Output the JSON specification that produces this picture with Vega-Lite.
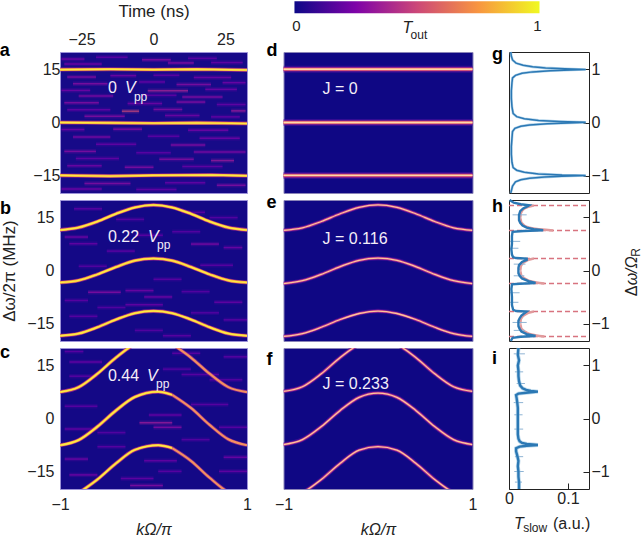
{"$schema":"https://vega.github.io/schema/vega-lite/v6.json","padding":{"left":-1,"top":0,"right":0,"bottom":0},"background":"white",
"config":{"font":"Liberation Sans","view":{"stroke":null},"axis":{"labelFont":"Liberation Sans","titleFont":"Liberation Sans","labelFontSize":16,"titleFontSize":16,"grid":false,"domain":false,"ticks":false,"labelColor":"#222","titleColor":"#222","labelFlush":false,"labelOverlap":false,"titleFontWeight":"normal"}},
"datasets":{
"t":[
{"p":"a","f":"b","s":"a","x":-53.4,"y":19},{"p":"a","f":"n","s":"0","x":-15.8,"y":8.5},{"p":"a","f":"i","s":"V","x":-9.9,"y":8.5},{"p":"a","f":"s","s":"pp","x":-6.8,"y":6.2},
{"p":"b","f":"b","s":"b","x":-1.642,"y":16.1},{"p":"b","f":"n","s":"0.22","x":-0.487,"y":8},{"p":"b","f":"i","s":"V","x":-0.059,"y":8},{"p":"b","f":"s","s":"pp","x":0.037,"y":6.2},
{"p":"c","f":"b","s":"c","x":-1.642,"y":17.3},{"p":"c","f":"n","s":"0.44","x":-0.487,"y":10.6},{"p":"c","f":"i","s":"V","x":-0.07,"y":10.6},{"p":"c","f":"s","s":"pp","x":0.027,"y":8.6},
{"p":"d","f":"b","s":"d","x":-1.18,"y":19},{"p":"d","f":"n","s":"J = 0","x":-0.587,"y":8.2},
{"p":"d","f":"k","s":"T","x":0.26,"y":25.4},{"p":"d","f":"l","s":"out","x":0.345,"y":23.7},{"p":"d","f":"m","s":"0","x":-0.862,"y":25.9},{"p":"d","f":"m","s":"1","x":1.688,"y":25.9},
{"p":"e","f":"b","s":"e","x":-1.18,"y":17.8},{"p":"e","f":"n","s":"J = 0.116","x":-0.587,"y":7.6},
{"p":"f","f":"b","s":"f","x":-1.18,"y":15.3},{"p":"f","f":"n","s":"J = 0.233","x":-0.587,"y":8.5},
{"p":"g","f":"b","s":"g","x":-0.0288,"y":1.18},{"p":"h","f":"b","s":"h","x":-0.0288,"y":1.1},{"p":"i","f":"b","s":"i","x":-0.0288,"y":1.03},
{"p":"i","f":"k","s":"T","x":0.0085,"y":-2.08},{"p":"i","f":"l","s":"slow","x":0.024,"y":-2.15},{"p":"i","f":"k2","s":"(a.u.)","x":0.0746,"y":-2.08}
],
"v":[
{"p":"h","f":"r","s":"Δ","x":0.217,"y":-0.486},{"p":"h","f":"q","s":"ω/Ω","x":0.217,"y":-0.28},{"p":"h","f":"u","s":"R","x":0.222,"y":0.26}
],
"c":[
{"p":"a","b":1,"x":-32.5,"y":15},{"p":"a","b":1,"x":-15,"y":15.1},{"p":"a","b":1,"x":0,"y":15},{"p":"a","b":1,"x":15,"y":15.1},{"p":"a","b":1,"x":32.5,"y":14.9},
{"p":"a","b":2,"x":-32.5,"y":0},{"p":"a","b":2,"x":-15,"y":-0.1},{"p":"a","b":2,"x":0,"y":-0.2},{"p":"a","b":2,"x":15,"y":-0.1},{"p":"a","b":2,"x":32.5,"y":-0.3},
{"p":"a","b":3,"x":-32.5,"y":-15},{"p":"a","b":3,"x":-15,"y":-15.2},{"p":"a","b":3,"x":0,"y":-15},{"p":"a","b":3,"x":20,"y":-14.9},{"p":"a","b":3,"x":32.5,"y":-15.1},
{"p":"d","b":1,"x":-1,"y":15.1},{"p":"d","b":1,"x":1,"y":15.1},{"p":"d","b":2,"x":-1,"y":0},{"p":"d","b":2,"x":1,"y":0},{"p":"d","b":3,"x":-1,"y":-15},{"p":"d","b":3,"x":1,"y":-15},
{"p":"b","b":1,"x":-1,"y":11.5},{"p":"b","b":1,"x":-0.8,"y":12.2},{"p":"b","b":1,"x":-0.6,"y":13.9},{"p":"b","b":1,"x":-0.4,"y":16.1},{"p":"b","b":1,"x":-0.2,"y":17.9},{"p":"b","b":1,"x":0,"y":18.6},{"p":"b","b":1,"x":0.2,"y":17.9},{"p":"b","b":1,"x":0.4,"y":16.1},{"p":"b","b":1,"x":0.6,"y":13.9},{"p":"b","b":1,"x":0.8,"y":12.2},{"p":"b","b":1,"x":1,"y":11.5},
{"p":"b","b":2,"x":-1,"y":-3.4},{"p":"b","b":2,"x":-0.8,"y":-2.8},{"p":"b","b":2,"x":-0.6,"y":-1.1},{"p":"b","b":2,"x":-0.4,"y":1},{"p":"b","b":2,"x":-0.2,"y":2.8},{"p":"b","b":2,"x":0,"y":3.4},{"p":"b","b":2,"x":0.2,"y":2.8},{"p":"b","b":2,"x":0.4,"y":1},{"p":"b","b":2,"x":0.6,"y":-1.1},{"p":"b","b":2,"x":0.8,"y":-2.8},{"p":"b","b":2,"x":1,"y":-3.4},
{"p":"b","b":3,"x":-1,"y":-18.5},{"p":"b","b":3,"x":-0.8,"y":-17.9},{"p":"b","b":3,"x":-0.6,"y":-16.1},{"p":"b","b":3,"x":-0.4,"y":-13.9},{"p":"b","b":3,"x":-0.2,"y":-12.1},{"p":"b","b":3,"x":0,"y":-11.5},{"p":"b","b":3,"x":0.2,"y":-12.1},{"p":"b","b":3,"x":0.4,"y":-13.9},{"p":"b","b":3,"x":0.6,"y":-16.1},{"p":"b","b":3,"x":0.8,"y":-17.9},{"p":"b","b":3,"x":1,"y":-18.5},
{"p":"c","b":1,"x":-1,"y":7.5},{"p":"c","b":1,"x":-0.8,"y":8.9},{"p":"c","b":1,"x":-0.6,"y":12.7},{"p":"c","b":1,"x":-0.4,"y":17.3},{"p":"c","b":1,"x":-0.2,"y":21.1},{"p":"c","b":1,"x":0,"y":22.5},
{"p":"c","b":2,"x":-1,"y":-7.6},{"p":"c","b":2,"x":-0.8,"y":-6.1},{"p":"c","b":2,"x":-0.6,"y":-2.3},{"p":"c","b":2,"x":-0.4,"y":2.3},{"p":"c","b":2,"x":-0.2,"y":6.1},{"p":"c","b":2,"x":0.05,"y":7.6},{"p":"c","b":2,"x":0.2,"y":6.7},
{"p":"c","b":3,"x":-0.8,"y":-21.1},{"p":"c","b":3,"x":-0.6,"y":-17.3},{"p":"c","b":3,"x":-0.4,"y":-12.7},{"p":"c","b":3,"x":-0.2,"y":-8.9},{"p":"c","b":3,"x":0.05,"y":-7.6},{"p":"c","b":3,"x":0.2,"y":-8.4},
{"p":"cd","b":1,"x":0.2,"y":21.1},{"p":"cd","b":1,"x":0.4,"y":17.3},{"p":"cd","b":1,"x":0.6,"y":12.7},{"p":"cd","b":1,"x":0.8,"y":8.9},{"p":"cd","b":1,"x":1,"y":7.5},
{"p":"cd","b":2,"x":0.2,"y":6.7},{"p":"cd","b":2,"x":0.4,"y":3},{"p":"cd","b":2,"x":0.6,"y":-1.8},{"p":"cd","b":2,"x":0.8,"y":-5.9},{"p":"cd","b":2,"x":1,"y":-7.6},
{"p":"cd","b":3,"x":0.2,"y":-8.4},{"p":"cd","b":3,"x":0.4,"y":-12},{"p":"cd","b":3,"x":0.6,"y":-16.8},{"p":"cd","b":3,"x":0.8,"y":-20.9},{"p":"cd","b":3,"x":1,"y":-22.5},
{"p":"e","b":1,"x":-1,"y":11.4},{"p":"e","b":1,"x":-0.8,"y":12.1},{"p":"e","b":1,"x":-0.6,"y":13.9},{"p":"e","b":1,"x":-0.4,"y":16.1},{"p":"e","b":1,"x":-0.2,"y":17.9},{"p":"e","b":1,"x":0,"y":18.6},{"p":"e","b":1,"x":0.2,"y":17.9},{"p":"e","b":1,"x":0.4,"y":16.1},{"p":"e","b":1,"x":0.6,"y":13.9},{"p":"e","b":1,"x":0.8,"y":12.1},{"p":"e","b":1,"x":1,"y":11.4},
{"p":"e","b":2,"x":-1,"y":-3.7},{"p":"e","b":2,"x":-0.8,"y":-2.9},{"p":"e","b":2,"x":-0.6,"y":-1.1},{"p":"e","b":2,"x":-0.4,"y":1.1},{"p":"e","b":2,"x":-0.2,"y":2.9},{"p":"e","b":2,"x":0,"y":3.5},{"p":"e","b":2,"x":0.2,"y":2.9},{"p":"e","b":2,"x":0.4,"y":1.1},{"p":"e","b":2,"x":0.6,"y":-1.1},{"p":"e","b":2,"x":0.8,"y":-2.9},{"p":"e","b":2,"x":1,"y":-3.7},
{"p":"e","b":3,"x":-1,"y":-18.7},{"p":"e","b":3,"x":-0.8,"y":-17.9},{"p":"e","b":3,"x":-0.6,"y":-16.1},{"p":"e","b":3,"x":-0.4,"y":-13.9},{"p":"e","b":3,"x":-0.2,"y":-12.2},{"p":"e","b":3,"x":0,"y":-11.5},{"p":"e","b":3,"x":0.2,"y":-12.2},{"p":"e","b":3,"x":0.4,"y":-13.9},{"p":"e","b":3,"x":0.6,"y":-16.1},{"p":"e","b":3,"x":0.8,"y":-17.9},{"p":"e","b":3,"x":1,"y":-18.7},
{"p":"f","b":1,"x":-1,"y":7.7},{"p":"f","b":1,"x":-0.8,"y":9},{"p":"f","b":1,"x":-0.6,"y":12.7},{"p":"f","b":1,"x":-0.4,"y":17.3},{"p":"f","b":1,"x":-0.2,"y":21},{"p":"f","b":1,"x":0,"y":22.4},{"p":"f","b":1,"x":0.2,"y":21},{"p":"f","b":1,"x":0.4,"y":17.3},{"p":"f","b":1,"x":0.6,"y":12.7},{"p":"f","b":1,"x":0.8,"y":9},{"p":"f","b":1,"x":1,"y":7.7},
{"p":"f","b":2,"x":-1,"y":-7.4},{"p":"f","b":2,"x":-0.8,"y":-6},{"p":"f","b":2,"x":-0.6,"y":-2.3},{"p":"f","b":2,"x":-0.4,"y":2.3},{"p":"f","b":2,"x":-0.2,"y":6},{"p":"f","b":2,"x":0,"y":7.2},{"p":"f","b":2,"x":0.2,"y":6},{"p":"f","b":2,"x":0.4,"y":2.3},{"p":"f","b":2,"x":0.6,"y":-2.3},{"p":"f","b":2,"x":0.8,"y":-6},{"p":"f","b":2,"x":1,"y":-7.4},
{"p":"f","b":3,"x":-1,"y":-22.4},{"p":"f","b":3,"x":-0.8,"y":-21},{"p":"f","b":3,"x":-0.6,"y":-17.3},{"p":"f","b":3,"x":-0.4,"y":-12.7},{"p":"f","b":3,"x":-0.2,"y":-9},{"p":"f","b":3,"x":0,"y":-8},{"p":"f","b":3,"x":0.2,"y":-9},{"p":"f","b":3,"x":0.4,"y":-12.7},{"p":"f","b":3,"x":0.6,"y":-17.3},{"p":"f","b":3,"x":0.8,"y":-21},{"p":"f","b":3,"x":1,"y":-22.4}
],
"s":[
{"p":"a","x":-32,"x2":-24,"y":18,"T":0.25},{"p":"a","x":-20,"x2":-9,"y":18.5,"T":0.2},{"p":"a","x":-4,"x2":6,"y":17.8,"T":0.3},{"p":"a","x":12,"x2":22,"y":18.2,"T":0.2},{"p":"a","x":-31,"x2":-18,"y":16.6,"T":0.25},{"p":"a","x":5,"x2":14,"y":16.9,"T":0.3},{"p":"a","x":20,"x2":31,"y":17,"T":0.22},
{"p":"a","x":-30,"x2":-20,"y":12.9,"T":0.3},{"p":"a","x":-15,"x2":-6,"y":13.3,"T":0.25},{"p":"a","x":0,"x2":9,"y":13.4,"T":0.2},{"p":"a","x":14,"x2":27,"y":12.8,"T":0.25},{"p":"a","x":-28,"x2":-16,"y":11,"T":0.3},{"p":"a","x":-5,"x2":4,"y":11.5,"T":0.22},{"p":"a","x":8,"x2":20,"y":10.8,"T":0.3},{"p":"a","x":24,"x2":32,"y":11.3,"T":0.25},
{"p":"a","x":-32,"x2":-22,"y":9.1,"T":0.25},{"p":"a","x":-2,"x2":12,"y":9,"T":0.38},{"p":"a","x":18,"x2":29,"y":9.4,"T":0.25},{"p":"a","x":-26,"x2":-14,"y":7.5,"T":0.28},{"p":"a","x":-4,"x2":8,"y":7.7,"T":0.2},{"p":"a","x":10,"x2":24,"y":7.2,"T":0.3},{"p":"a","x":-31,"x2":-19,"y":5.6,"T":0.3},{"p":"a","x":-9,"x2":3,"y":5.4,"T":0.25},{"p":"a","x":8,"x2":18,"y":5.8,"T":0.3},{"p":"a","x":22,"x2":32,"y":5.1,"T":0.22},
{"p":"a","x":-11,"x2":-5,"y":3.2,"T":0.5},{"p":"a","x":-30,"x2":-15,"y":3.6,"T":0.22},{"p":"a","x":0,"x2":10,"y":3.7,"T":0.3},{"p":"a","x":27,"x2":32,"y":3.3,"T":0.35},{"p":"a","x":-24,"x2":-10,"y":1.8,"T":0.3},{"p":"a","x":4,"x2":16,"y":2,"T":0.25},{"p":"a","x":20,"x2":30,"y":1.6,"T":0.22},
{"p":"a","x":-32,"x2":-24,"y":-2,"T":0.25},{"p":"a","x":-14,"x2":-4,"y":-1.9,"T":0.3},{"p":"a","x":12,"x2":26,"y":-2.2,"T":0.25},{"p":"a","x":-28,"x2":-15,"y":-4.1,"T":0.28},{"p":"a","x":-2,"x2":9,"y":-3.9,"T":0.2},{"p":"a","x":16,"x2":30,"y":-4.5,"T":0.25},{"p":"a","x":-20,"x2":-6,"y":-6.2,"T":0.22},{"p":"a","x":6,"x2":18,"y":-6.4,"T":0.3},
{"p":"a","x":-31,"x2":-20,"y":-8.2,"T":0.3},{"p":"a","x":-6,"x2":6,"y":-8.6,"T":0.2},{"p":"a","x":14,"x2":32,"y":-8.4,"T":0.28},{"p":"a","x":-27,"x2":-12,"y":-10.2,"T":0.22},{"p":"a","x":2,"x2":14,"y":-10.4,"T":0.3},{"p":"a","x":20,"x2":28,"y":-10.8,"T":0.35},{"p":"a","x":-30,"x2":-18,"y":-12.3,"T":0.25},{"p":"a","x":-10,"x2":0,"y":-12.7,"T":0.3},{"p":"a","x":10,"x2":24,"y":-12.5,"T":0.22},
{"p":"a","x":-24,"x2":-8,"y":-17.3,"T":0.3},{"p":"a","x":4,"x2":18,"y":-17.1,"T":0.22},{"p":"a","x":22,"x2":32,"y":-17.8,"T":0.3},{"p":"a","x":-32,"x2":-18,"y":-18.9,"T":0.25},{"p":"a","x":-6,"x2":8,"y":-19,"T":0.22},
{"p":"b","x":-0.95,"x2":-0.7,"y":9.5,"T":0.25},{"p":"b","x":-0.4,"x2":-0.1,"y":14.5,"T":0.18},{"p":"b","x":0.3,"x2":0.55,"y":16.5,"T":0.2},{"p":"b","x":0.6,"x2":0.9,"y":15,"T":0.18},{"p":"b","x":-0.9,"x2":-0.6,"y":7.6,"T":0.22},{"p":"b","x":-0.5,"x2":-0.2,"y":5.5,"T":0.2},{"p":"b","x":0.4,"x2":0.7,"y":7.5,"T":0.28},{"p":"b","x":0.75,"x2":0.95,"y":6.5,"T":0.25},{"p":"b","x":-0.8,"x2":-0.5,"y":1.2,"T":0.18},{"p":"b","x":0.5,"x2":0.85,"y":1.5,"T":0.2},{"p":"b","x":-0.3,"x2":0,"y":-5.7,"T":0.25},{"p":"b","x":-0.7,"x2":-0.35,"y":-6.2,"T":0.3},{"p":"b","x":-0.1,"x2":0.2,"y":-7.5,"T":0.25},{"p":"b","x":0.3,"x2":0.6,"y":-6,"T":0.18},{"p":"b","x":0.65,"x2":0.95,"y":-9,"T":0.22},{"p":"b","x":-0.95,"x2":-0.7,"y":-8.5,"T":0.2},{"p":"b","x":-0.3,"x2":0.1,"y":-9.7,"T":0.22},{"p":"b","x":-0.6,"x2":-0.3,"y":-10.5,"T":0.18},{"p":"b","x":-0.9,"x2":-0.6,"y":-13,"T":0.2},{"p":"b","x":0.4,"x2":0.7,"y":-12,"T":0.18},{"p":"b","x":0.75,"x2":1,"y":-14,"T":0.2},{"p":"b","x":-0.2,"x2":0.1,"y":-17,"T":0.18},{"p":"b","x":0.1,"x2":0.4,"y":-18.5,"T":0.2},{"p":"b","x":-0.85,"x2":-0.55,"y":17.5,"T":0.2},{"p":"b","x":0.2,"x2":0.5,"y":11,"T":0.18},{"p":"b","x":-0.2,"x2":0.1,"y":10,"T":0.2},{"p":"b","x":0,"x2":0.3,"y":-2.5,"T":0.2},
{"p":"c","x":-0.9,"x2":-0.6,"y":12,"T":0.2},{"p":"c","x":-0.9,"x2":-0.55,"y":16,"T":0.22},{"p":"c","x":0.2,"x2":0.5,"y":18.5,"T":0.2},{"p":"c","x":0,"x2":0.3,"y":-2.5,"T":0.3},{"p":"c","x":-0.15,"x2":0.2,"y":-1.2,"T":0.35},{"p":"c","x":-0.05,"x2":0.3,"y":1,"T":0.22},{"p":"c","x":0.4,"x2":0.8,"y":4,"T":0.2},{"p":"c","x":0.6,"x2":0.95,"y":11,"T":0.18},{"p":"c","x":0.3,"x2":0.7,"y":12.5,"T":0.2},{"p":"c","x":-0.95,"x2":-0.6,"y":3.5,"T":0.2},{"p":"c","x":-0.95,"x2":-0.6,"y":-3,"T":0.22},{"p":"c","x":0.7,"x2":1,"y":-2.5,"T":0.2},{"p":"c","x":-0.6,"x2":-0.3,"y":-8,"T":0.2},{"p":"c","x":0.75,"x2":1,"y":-11,"T":0.25},{"p":"c","x":0.7,"x2":1,"y":-15,"T":0.22},{"p":"c","x":-0.95,"x2":-0.7,"y":-11.5,"T":0.25},{"p":"c","x":-0.9,"x2":-0.6,"y":-16,"T":0.25},{"p":"c","x":-0.35,"x2":0,"y":-17,"T":0.22},{"p":"c","x":-0.25,"x2":0.1,"y":-19,"T":0.3},{"p":"c","x":0.05,"x2":0.3,"y":-15,"T":0.2},{"p":"c","x":-0.6,"x2":-0.3,"y":-4,"T":0.18},{"p":"c","x":0.3,"x2":0.6,"y":-6,"T":0.18},{"p":"c","x":0.1,"x2":0.4,"y":14,"T":0.18},{"p":"c","x":-0.95,"x2":-0.75,"y":19,"T":0.2},{"p":"c","x":0.75,"x2":1,"y":17.5,"T":0.2},{"p":"c","x":-0.1,"x2":0.25,"y":-12,"T":0.22}
],
"bg":[{"x":-0.884,"x2":1.709,"y":34.42,"y2":31}],
"r":[
{"p":"g","x":0.003,"y":1.33},{"p":"g","x":0.004,"y":1.25},{"p":"g","x":0.006,"y":1.18},{"p":"g","x":0.012,"y":1.12},{"p":"g","x":0.024,"y":1.08},{"p":"g","x":0.04,"y":1.05},{"p":"g","x":0.062,"y":1.03},{"p":"g","x":0.095,"y":1.015},{"p":"g","x":0.13,"y":1},{"p":"g","x":0.105,"y":0.99},{"p":"g","x":0.07,"y":0.975},{"p":"g","x":0.04,"y":0.955},{"p":"g","x":0.022,"y":0.93},{"p":"g","x":0.011,"y":0.89},{"p":"g","x":0.006,"y":0.84},{"p":"g","x":0.005,"y":0.75},{"p":"g","x":0.004,"y":0.6},{"p":"g","x":0.004,"y":0.45},{"p":"g","x":0.005,"y":0.3},{"p":"g","x":0.007,"y":0.17},{"p":"g","x":0.013,"y":0.11},{"p":"g","x":0.026,"y":0.07},{"p":"g","x":0.05,"y":0.04},{"p":"g","x":0.085,"y":0.02},{"p":"g","x":0.13,"y":0.003},{"p":"g","x":0.1,"y":-0.01},{"p":"g","x":0.065,"y":-0.025},{"p":"g","x":0.035,"y":-0.045},{"p":"g","x":0.02,"y":-0.07},{"p":"g","x":0.01,"y":-0.11},{"p":"g","x":0.006,"y":-0.17},{"p":"g","x":0.005,"y":-0.3},{"p":"g","x":0.004,"y":-0.45},{"p":"g","x":0.004,"y":-0.6},{"p":"g","x":0.005,"y":-0.75},{"p":"g","x":0.007,"y":-0.85},{"p":"g","x":0.013,"y":-0.9},{"p":"g","x":0.026,"y":-0.94},{"p":"g","x":0.05,"y":-0.97},{"p":"g","x":0.09,"y":-0.99},{"p":"g","x":0.13,"y":-1},{"p":"g","x":0.09,"y":-1.015},{"p":"g","x":0.06,"y":-1.03},{"p":"g","x":0.035,"y":-1.05},{"p":"g","x":0.02,"y":-1.08},{"p":"g","x":0.011,"y":-1.12},{"p":"g","x":0.006,"y":-1.2},{"p":"g","x":0.003,"y":-1.33},
{"p":"h","x":0.001,"y":1.33},{"p":"h","x":0.008,"y":1.28},{"p":"h","x":0.02,"y":1.25},{"p":"h","x":0.034,"y":1.23},{"p":"h","x":0.031,"y":1.21},{"p":"h","x":0.024,"y":1.17},{"p":"h","x":0.019,"y":1.12},{"p":"h","x":0.017,"y":1.05},{"p":"h","x":0.017,"y":1},{"p":"h","x":0.017,"y":0.95},{"p":"h","x":0.019,"y":0.9},{"p":"h","x":0.023,"y":0.85},{"p":"h","x":0.03,"y":0.81},{"p":"h","x":0.042,"y":0.78},{"p":"h","x":0.058,"y":0.76},{"p":"h","x":0.025,"y":0.745},{"p":"h","x":0.006,"y":0.73},{"p":"h","x":0.005,"y":0.65},{"p":"h","x":0.005,"y":0.5},{"p":"h","x":0.004,"y":0.4},{"p":"h","x":0.005,"y":0.3},{"p":"h","x":0.007,"y":0.25},{"p":"h","x":0.012,"y":0.235},{"p":"h","x":0.03,"y":0.225},{"p":"h","x":0.03,"y":0.2},{"p":"h","x":0.022,"y":0.16},{"p":"h","x":0.017,"y":0.1},{"p":"h","x":0.016,"y":0.05},{"p":"h","x":0.016,"y":0},{"p":"h","x":0.016,"y":-0.05},{"p":"h","x":0.018,"y":-0.1},{"p":"h","x":0.022,"y":-0.15},{"p":"h","x":0.033,"y":-0.2},{"p":"h","x":0.045,"y":-0.235},{"p":"h","x":0.018,"y":-0.25},{"p":"h","x":0.005,"y":-0.26},{"p":"h","x":0.004,"y":-0.35},{"p":"h","x":0.005,"y":-0.5},{"p":"h","x":0.005,"y":-0.65},{"p":"h","x":0.007,"y":-0.74},{"p":"h","x":0.012,"y":-0.765},{"p":"h","x":0.03,"y":-0.775},{"p":"h","x":0.027,"y":-0.8},{"p":"h","x":0.021,"y":-0.85},{"p":"h","x":0.018,"y":-0.9},{"p":"h","x":0.016,"y":-0.95},{"p":"h","x":0.016,"y":-1},{"p":"h","x":0.016,"y":-1.05},{"p":"h","x":0.018,"y":-1.1},{"p":"h","x":0.021,"y":-1.15},{"p":"h","x":0.03,"y":-1.2},{"p":"h","x":0.045,"y":-1.235},{"p":"h","x":0.02,"y":-1.25},{"p":"h","x":0.006,"y":-1.27},{"p":"h","x":0.003,"y":-1.33},
{"p":"hf","b":1,"x":0.042,"y":1.228},{"p":"hf","b":1,"x":0.026,"y":1.17},{"p":"hf","b":1,"x":0.02,"y":1.08},{"p":"hf","b":1,"x":0.019,"y":0.99},{"p":"hf","b":1,"x":0.021,"y":0.9},{"p":"hf","b":1,"x":0.033,"y":0.81},{"p":"hf","b":1,"x":0.075,"y":0.756},
{"p":"hf","b":2,"x":0.042,"y":0.225},{"p":"hf","b":2,"x":0.026,"y":0.16},{"p":"hf","b":2,"x":0.02,"y":0.08},{"p":"hf","b":2,"x":0.019,"y":-0.01},{"p":"hf","b":2,"x":0.021,"y":-0.1},{"p":"hf","b":2,"x":0.033,"y":-0.19},{"p":"hf","b":2,"x":0.06,"y":-0.244},
{"p":"hf","b":3,"x":0.042,"y":-0.775},{"p":"hf","b":3,"x":0.026,"y":-0.84},{"p":"hf","b":3,"x":0.02,"y":-0.92},{"p":"hf","b":3,"x":0.019,"y":-1.01},{"p":"hf","b":3,"x":0.021,"y":-1.1},{"p":"hf","b":3,"x":0.033,"y":-1.19},{"p":"hf","b":3,"x":0.06,"y":-1.244},
{"p":"i","x":0.016,"y":1.33},{"p":"i","x":0.015,"y":1.2},{"p":"i","x":0.017,"y":1.1},{"p":"i","x":0.015,"y":1},{"p":"i","x":0.016,"y":0.9},{"p":"i","x":0.016,"y":0.8},{"p":"i","x":0.017,"y":0.7},{"p":"i","x":0.019,"y":0.62},{"p":"i","x":0.023,"y":0.57},{"p":"i","x":0.029,"y":0.54},{"p":"i","x":0.037,"y":0.52},{"p":"i","x":0.049,"y":0.507},{"p":"i","x":0.033,"y":0.49},{"p":"i","x":0.016,"y":0.47},{"p":"i","x":0.012,"y":0.44},{"p":"i","x":0.013,"y":0.38},{"p":"i","x":0.014,"y":0.3},{"p":"i","x":0.015,"y":0.2},{"p":"i","x":0.015,"y":0.1},{"p":"i","x":0.015,"y":0},{"p":"i","x":0.015,"y":-0.1},{"p":"i","x":0.015,"y":-0.2},{"p":"i","x":0.015,"y":-0.3},{"p":"i","x":0.016,"y":-0.38},{"p":"i","x":0.018,"y":-0.43},{"p":"i","x":0.022,"y":-0.46},{"p":"i","x":0.03,"y":-0.48},{"p":"i","x":0.049,"y":-0.5},{"p":"i","x":0.03,"y":-0.515},{"p":"i","x":0.018,"y":-0.53},{"p":"i","x":0.012,"y":-0.56},{"p":"i","x":0.012,"y":-0.62},{"p":"i","x":0.014,"y":-0.7},{"p":"i","x":0.016,"y":-0.8},{"p":"i","x":0.015,"y":-0.9},{"p":"i","x":0.016,"y":-1},{"p":"i","x":0.016,"y":-1.1},{"p":"i","x":0.017,"y":-1.2},{"p":"i","x":0.017,"y":-1.33}
],
"n":[
{"p":"i","x":0.008,"x2":0.027,"y":1.22},{"p":"i","x":0.01,"x2":0.024,"y":0.88},{"p":"i","x":0.013,"x2":0.027,"y":0.66},{"p":"i","x":0.008,"x2":0.024,"y":0.3},{"p":"i","x":0.009,"x2":0.023,"y":0.07},{"p":"i","x":0.009,"x2":0.024,"y":-0.2},{"p":"i","x":0.01,"x2":0.024,"y":-0.72},{"p":"i","x":0.009,"x2":0.025,"y":-1},{"p":"i","x":0.01,"x2":0.022,"y":-1.2},
{"p":"h","x":0.002,"x2":0.019,"y":0.55},{"p":"h","x":0.002,"x2":0.016,"y":0.42},{"p":"h","x":0.002,"x2":0.018,"y":-0.42},{"p":"h","x":0.002,"x2":0.016,"y":-0.6},{"p":"h","x":0.006,"x2":0.03,"y":1.05},{"p":"h","x":0.008,"x2":0.028,"y":0.12},{"p":"h","x":0.006,"x2":0.03,"y":-0.98},{"p":"h","x":0.008,"x2":0.027,"y":-1.13},{"p":"h","x":0.008,"x2":0.026,"y":-0.1},
{"p":"h2","x":0,"x2":0.1356,"y":1.225},{"p":"h2","x":0,"x2":0.1356,"y":0.756},{"p":"h2","x":0,"x2":0.1356,"y":0.225},{"p":"h2","x":0,"x2":0.1356,"y":-0.244},{"p":"h2","x":0,"x2":0.1356,"y":-0.775},{"p":"h2","x":0,"x2":0.1356,"y":-1.244}
]
},
"concat":[
{"width":187,"height":141,"view":{"fill":"#170a88","stroke":"#9c92d8"},
"encoding":{"x":{"field":"x","type":"quantitative","scale":{"domain":[-32.5,32.5],"nice":false},"axis":{"orient":"top","values":[-25,0,25],"format":"d","title":"Time (ns)","titleFontSize":17,"labelPadding":5,"titlePadding":11}},"y":{"field":"y","type":"quantitative","scale":{"domain":[-20,20],"nice":false},"axis":{"values":[-15,0,15],"format":"d","title":null,"ticks":true,"tickSize":-6,"tickColor":"#1a1a30","labelPadding":6}}},
"layer":[
{"data":{"name":"s"},"transform":[{"filter":"datum.p=='a'"}],"mark":{"type":"rule","strokeWidth":4.5,"opacity":0.22,"clip":true},"encoding":{"x2":{"field":"x2"},"color":{"field":"T","type":"quantitative","scale":{"scheme":"plasma","domain":[0,1]},"legend":null}}},
{"data":{"name":"s"},"transform":[{"filter":"datum.p=='a'"}],"mark":{"type":"rule","strokeWidth":1.5,"opacity":0.7,"clip":true},"encoding":{"x2":{"field":"x2"},"color":{"field":"T","type":"quantitative","scale":{"scheme":"plasma","domain":[0,1]},"legend":null}}},
{"data":{"name":"c"},"transform":[{"filter":"datum.p=='a'"}],"mark":{"type":"line","stroke":"#b12a90","strokeWidth":4,"opacity":0.7,"clip":true},"encoding":{"detail":{"field":"b"}}},
{"data":{"name":"c"},"transform":[{"filter":"datum.p=='a'"}],"mark":{"type":"line","stroke":"#fbaa3c","strokeWidth":2.6,"clip":true},"encoding":{"detail":{"field":"b"}}},
{"data":{"name":"c"},"transform":[{"filter":"datum.p=='a'"}],"mark":{"type":"line","stroke":"#fdea45","strokeWidth":1.3,"clip":true},"encoding":{"detail":{"field":"b"}}},
{"data":{"name":"t"},"transform":[{"filter":"datum.p=='a'&&datum.f=='b'"}],"mark":{"type":"text","align":"left","baseline":"alphabetic","fontWeight":"bold","fontSize":18,"color":"#000"},"encoding":{"text":{"field":"s"}}},
{"data":{"name":"t"},"transform":[{"filter":"datum.p=='a'&&datum.f=='n'"}],"mark":{"type":"text","align":"left","baseline":"alphabetic","fontSize":16,"color":"#f4eef8"},"encoding":{"text":{"field":"s"}}},
{"data":{"name":"t"},"transform":[{"filter":"datum.p=='a'&&datum.f=='i'"}],"mark":{"type":"text","align":"left","baseline":"alphabetic","fontSize":16,"fontStyle":"italic","color":"#f4eef8"},"encoding":{"text":{"field":"s"}}},
{"data":{"name":"t"},"transform":[{"filter":"datum.p=='a'&&datum.f=='s'"}],"mark":{"type":"text","align":"left","baseline":"alphabetic","fontSize":12,"color":"#f4eef8"},"encoding":{"text":{"field":"s"}}}
]},
{"width":189,"height":141,"view":{"fill":"#0f0784","stroke":"#8a84b8"},
"encoding":{"x":{"field":"x","type":"quantitative","scale":{"domain":[-1,1],"nice":false},"axis":null},"y":{"field":"y","type":"quantitative","scale":{"domain":[-20,20],"nice":false},"axis":null}},
"layer":[
{"data":{"name":"bg"},"mark":{"type":"rect","fill":{"gradient":"linear","x1":0,"y1":0,"x2":1,"y2":0,"stops":[{"offset":0,"color":"#0d0887"},{"offset":0.25,"color":"#7e03a8"},{"offset":0.5,"color":"#cc4778"},{"offset":0.75,"color":"#f89540"},{"offset":1,"color":"#f0f921"}]}},"encoding":{"x2":{"field":"x2"},"y2":{"field":"y2"}}},
{"data":{"name":"c"},"transform":[{"filter":"datum.p=='d'"}],"mark":{"type":"line","stroke":"#5a0fa0","strokeWidth":7,"opacity":0.5},"encoding":{"detail":{"field":"b"}}},
{"data":{"name":"c"},"transform":[{"filter":"datum.p=='d'"}],"mark":{"type":"line","stroke":"#b4308a","strokeWidth":4},"encoding":{"detail":{"field":"b"}}},
{"data":{"name":"c"},"transform":[{"filter":"datum.p=='d'"}],"mark":{"type":"line","stroke":"#f2796a","strokeWidth":2.4},"encoding":{"detail":{"field":"b"}}},
{"data":{"name":"c"},"transform":[{"filter":"datum.p=='d'"}],"mark":{"type":"line","stroke":"#fdd9a8","strokeWidth":1.4},"encoding":{"detail":{"field":"b"}}},
{"data":{"name":"t"},"transform":[{"filter":"datum.p=='d'&&datum.f=='b'"}],"mark":{"type":"text","align":"left","baseline":"alphabetic","fontWeight":"bold","fontSize":18,"color":"#000"},"encoding":{"text":{"field":"s"}}},
{"data":{"name":"t"},"transform":[{"filter":"datum.p=='d'&&datum.f=='n'"}],"mark":{"type":"text","align":"left","baseline":"alphabetic","fontSize":16,"color":"#f4eef8"},"encoding":{"text":{"field":"s"}}},
{"data":{"name":"t"},"transform":[{"filter":"datum.p=='d'&&datum.f=='m'"}],"mark":{"type":"text","align":"center","baseline":"alphabetic","fontSize":15,"color":"#222"},"encoding":{"text":{"field":"s"}}},
{"data":{"name":"t"},"transform":[{"filter":"datum.p=='d'&&datum.f=='k'"}],"mark":{"type":"text","align":"left","baseline":"alphabetic","fontSize":16,"fontStyle":"italic","color":"#222"},"encoding":{"text":{"field":"s"}}},
{"data":{"name":"t"},"transform":[{"filter":"datum.p=='d'&&datum.f=='l'"}],"mark":{"type":"text","align":"left","baseline":"alphabetic","fontSize":12,"color":"#222"},"encoding":{"text":{"field":"s"}}}
]},
{"width":80,"height":141,"view":{"stroke":"#222"},
"encoding":{"x":{"field":"x","type":"quantitative","scale":{"domain":[0,0.1356],"nice":false},"axis":null},"y":{"field":"y","type":"quantitative","scale":{"domain":[-1.33,1.33],"nice":false},"axis":{"orient":"right","values":[-1,0,1],"format":"d","title":null,"ticks":true,"tickSize":-6,"tickColor":"#222","labelPadding":8}}},
"layer":[
{"data":{"name":"r"},"transform":[{"filter":"datum.p=='g'"}],"mark":{"type":"line","stroke":"#8fbfe0","strokeWidth":2.6,"opacity":0.7},"encoding":{"order":{"field":"y","type":"quantitative"}}},
{"data":{"name":"r"},"transform":[{"filter":"datum.p=='g'"}],"mark":{"type":"line","stroke":"#2b78b4","strokeWidth":1.5},"encoding":{"order":{"field":"y","type":"quantitative"}}},
{"data":{"name":"t"},"transform":[{"filter":"datum.p=='g'&&datum.f=='b'"}],"mark":{"type":"text","align":"left","baseline":"alphabetic","fontWeight":"bold","fontSize":18,"color":"#000"},"encoding":{"text":{"field":"s"}}}
]},
{"width":187,"height":141,"view":{"fill":"#140886","stroke":"#9c92d8"},
"encoding":{"x":{"field":"x","type":"quantitative","scale":{"domain":[-1,1],"nice":false},"axis":null},"y":{"field":"y","type":"quantitative","scale":{"domain":[-20,20],"nice":false},"axis":{"values":[-15,0,15],"format":"d","title":"Δω/2π (MHz)","titleFontSize":17,"labelPadding":6,"titlePadding":8}}},
"layer":[
{"data":{"name":"s"},"transform":[{"filter":"datum.p=='b'"}],"mark":{"type":"rule","strokeWidth":4.5,"opacity":0.22,"clip":true},"encoding":{"x2":{"field":"x2"},"color":{"field":"T","type":"quantitative","scale":{"scheme":"plasma","domain":[0,1]},"legend":null}}},
{"data":{"name":"s"},"transform":[{"filter":"datum.p=='b'"}],"mark":{"type":"rule","strokeWidth":1.5,"opacity":0.7,"clip":true},"encoding":{"x2":{"field":"x2"},"color":{"field":"T","type":"quantitative","scale":{"scheme":"plasma","domain":[0,1]},"legend":null}}},
{"data":{"name":"c"},"transform":[{"filter":"datum.p=='b'"}],"mark":{"type":"line","interpolate":"monotone","stroke":"#b12a90","strokeWidth":4,"opacity":0.7,"clip":true},"encoding":{"detail":{"field":"b"}}},
{"data":{"name":"c"},"transform":[{"filter":"datum.p=='b'"}],"mark":{"type":"line","interpolate":"monotone","stroke":"#fbaa3c","strokeWidth":2.6,"clip":true},"encoding":{"detail":{"field":"b"}}},
{"data":{"name":"c"},"transform":[{"filter":"datum.p=='b'"}],"mark":{"type":"line","interpolate":"monotone","stroke":"#fdea45","strokeWidth":1.5,"clip":true},"encoding":{"detail":{"field":"b"}}},
{"data":{"name":"t"},"transform":[{"filter":"datum.p=='b'&&datum.f=='b'"}],"mark":{"type":"text","align":"left","baseline":"alphabetic","fontWeight":"bold","fontSize":18,"color":"#000"},"encoding":{"text":{"field":"s"}}},
{"data":{"name":"t"},"transform":[{"filter":"datum.p=='b'&&datum.f=='n'"}],"mark":{"type":"text","align":"left","baseline":"alphabetic","fontSize":16,"color":"#f4eef8"},"encoding":{"text":{"field":"s"}}},
{"data":{"name":"t"},"transform":[{"filter":"datum.p=='b'&&datum.f=='i'"}],"mark":{"type":"text","align":"left","baseline":"alphabetic","fontSize":16,"fontStyle":"italic","color":"#f4eef8"},"encoding":{"text":{"field":"s"}}},
{"data":{"name":"t"},"transform":[{"filter":"datum.p=='b'&&datum.f=='s'"}],"mark":{"type":"text","align":"left","baseline":"alphabetic","fontSize":12,"color":"#f4eef8"},"encoding":{"text":{"field":"s"}}}
]},
{"width":189,"height":141,"view":{"fill":"#0f0784","stroke":"#8a84b8"},
"encoding":{"x":{"field":"x","type":"quantitative","scale":{"domain":[-1,1],"nice":false},"axis":null},"y":{"field":"y","type":"quantitative","scale":{"domain":[-20,20],"nice":false},"axis":null}},
"layer":[
{"data":{"name":"c"},"transform":[{"filter":"datum.p=='e'"}],"mark":{"type":"line","interpolate":"monotone","stroke":"#5a0fa0","strokeWidth":4.5,"opacity":0.5,"clip":true},"encoding":{"detail":{"field":"b"}}},
{"data":{"name":"c"},"transform":[{"filter":"datum.p=='e'"}],"mark":{"type":"line","interpolate":"monotone","stroke":"#b4308a","strokeWidth":2.8,"clip":true},"encoding":{"detail":{"field":"b"}}},
{"data":{"name":"c"},"transform":[{"filter":"datum.p=='e'"}],"mark":{"type":"line","interpolate":"monotone","stroke":"#fdc59a","strokeWidth":1.3,"clip":true},"encoding":{"detail":{"field":"b"}}},
{"data":{"name":"t"},"transform":[{"filter":"datum.p=='e'&&datum.f=='b'"}],"mark":{"type":"text","align":"left","baseline":"alphabetic","fontWeight":"bold","fontSize":18,"color":"#000"},"encoding":{"text":{"field":"s"}}},
{"data":{"name":"t"},"transform":[{"filter":"datum.p=='e'&&datum.f=='n'"}],"mark":{"type":"text","align":"left","baseline":"alphabetic","fontSize":16,"color":"#f4eef8"},"encoding":{"text":{"field":"s"}}}
]},
{"width":80,"height":141,"view":{"stroke":"#222"},
"encoding":{"x":{"field":"x","type":"quantitative","scale":{"domain":[0,0.1356],"nice":false},"axis":null},"y":{"field":"y","type":"quantitative","scale":{"domain":[-1.33,1.33],"nice":false},"axis":{"orient":"right","values":[-1,0,1],"format":"d","title":null,"ticks":true,"tickSize":-6,"tickColor":"#222","labelPadding":8}}},
"layer":[
{"data":{"name":"n"},"transform":[{"filter":"datum.p=='h2'"}],"mark":{"type":"rule","stroke":"#d8737f","strokeWidth":1.5,"strokeDash":[5,3]},"encoding":{"x2":{"field":"x2"}}},
{"data":{"name":"r"},"transform":[{"filter":"datum.p=='hf'"}],"mark":{"type":"line","interpolate":"monotone","stroke":"#e09a9c","strokeWidth":2.5},"encoding":{"detail":{"field":"b"},"order":{"field":"y","type":"quantitative"}}},
{"data":{"name":"n"},"transform":[{"filter":"datum.p=='h'"}],"mark":{"type":"rule","stroke":"#8fb4d4","strokeWidth":1},"encoding":{"x2":{"field":"x2"}}},
{"data":{"name":"r"},"transform":[{"filter":"datum.p=='h'"}],"mark":{"type":"line","stroke":"#2b78b4","strokeWidth":2.4},"encoding":{"order":{"field":"y","type":"quantitative"}}},
{"data":{"name":"t"},"transform":[{"filter":"datum.p=='h'&&datum.f=='b'"}],"mark":{"type":"text","align":"left","baseline":"alphabetic","fontWeight":"bold","fontSize":18,"color":"#000"},"encoding":{"text":{"field":"s"}}},
{"data":{"name":"v"},"transform":[{"filter":"datum.f=='r'"}],"mark":{"type":"text","align":"left","baseline":"alphabetic","angle":270,"fontSize":16,"color":"#222"},"encoding":{"text":{"field":"s"}}},
{"data":{"name":"v"},"transform":[{"filter":"datum.f=='q'"}],"mark":{"type":"text","align":"left","baseline":"alphabetic","angle":270,"fontSize":16,"fontStyle":"italic","color":"#222"},"encoding":{"text":{"field":"s"}}},
{"data":{"name":"v"},"transform":[{"filter":"datum.f=='u'"}],"mark":{"type":"text","align":"left","baseline":"alphabetic","angle":270,"fontSize":12,"color":"#222"},"encoding":{"text":{"field":"s"}}}
]},
{"width":187,"height":141,"view":{"fill":"#140886","stroke":"#9c92d8"},
"encoding":{"x":{"field":"x","type":"quantitative","scale":{"domain":[-1,1],"nice":false},"axis":{"values":[-1,0,1],"format":"d","title":"kΩ/π","titleFontStyle":"italic","labelPadding":7,"titlePadding":9}},"y":{"field":"y","type":"quantitative","scale":{"domain":[-20,20],"nice":false},"axis":{"values":[-15,0,15],"format":"d","title":null,"labelPadding":6}}},
"layer":[
{"data":{"name":"s"},"transform":[{"filter":"datum.p=='c'"}],"mark":{"type":"rule","strokeWidth":4.5,"opacity":0.22,"clip":true},"encoding":{"x2":{"field":"x2"},"color":{"field":"T","type":"quantitative","scale":{"scheme":"plasma","domain":[0,1]},"legend":null}}},
{"data":{"name":"s"},"transform":[{"filter":"datum.p=='c'"}],"mark":{"type":"rule","strokeWidth":1.5,"opacity":0.7,"clip":true},"encoding":{"x2":{"field":"x2"},"color":{"field":"T","type":"quantitative","scale":{"scheme":"plasma","domain":[0,1]},"legend":null}}},
{"data":{"name":"c"},"transform":[{"filter":"datum.p=='c'"}],"mark":{"type":"line","interpolate":"monotone","stroke":"#b12a90","strokeWidth":4,"opacity":0.7,"clip":true},"encoding":{"detail":{"field":"b"}}},
{"data":{"name":"c"},"transform":[{"filter":"datum.p=='cd'"}],"mark":{"type":"line","interpolate":"monotone","stroke":"#a32a90","strokeWidth":3.6,"opacity":0.7,"clip":true},"encoding":{"detail":{"field":"b"}}},
{"data":{"name":"c"},"transform":[{"filter":"datum.p=='c'"}],"mark":{"type":"line","interpolate":"monotone","stroke":"#fbaa3c","strokeWidth":2.6,"clip":true},"encoding":{"detail":{"field":"b"}}},
{"data":{"name":"c"},"transform":[{"filter":"datum.p=='c'"}],"mark":{"type":"line","interpolate":"monotone","stroke":"#fdea45","strokeWidth":1.5,"clip":true},"encoding":{"detail":{"field":"b"}}},
{"data":{"name":"c"},"transform":[{"filter":"datum.p=='cd'"}],"mark":{"type":"line","interpolate":"monotone","stroke":"#f3905f","strokeWidth":2.2,"clip":true},"encoding":{"detail":{"field":"b"}}},
{"data":{"name":"t"},"transform":[{"filter":"datum.p=='c'&&datum.f=='b'"}],"mark":{"type":"text","align":"left","baseline":"alphabetic","fontWeight":"bold","fontSize":18,"color":"#000"},"encoding":{"text":{"field":"s"}}},
{"data":{"name":"t"},"transform":[{"filter":"datum.p=='c'&&datum.f=='n'"}],"mark":{"type":"text","align":"left","baseline":"alphabetic","fontSize":16,"color":"#f4eef8"},"encoding":{"text":{"field":"s"}}},
{"data":{"name":"t"},"transform":[{"filter":"datum.p=='c'&&datum.f=='i'"}],"mark":{"type":"text","align":"left","baseline":"alphabetic","fontSize":16,"fontStyle":"italic","color":"#f4eef8"},"encoding":{"text":{"field":"s"}}},
{"data":{"name":"t"},"transform":[{"filter":"datum.p=='c'&&datum.f=='s'"}],"mark":{"type":"text","align":"left","baseline":"alphabetic","fontSize":12,"color":"#f4eef8"},"encoding":{"text":{"field":"s"}}}
]},
{"width":189,"height":141,"view":{"fill":"#0f0784","stroke":"#8a84b8"},
"encoding":{"x":{"field":"x","type":"quantitative","scale":{"domain":[-1,1],"nice":false},"axis":{"values":[-1,0,1],"format":"d","title":"kΩ/π","titleFontStyle":"italic","labelPadding":7,"titlePadding":9}},"y":{"field":"y","type":"quantitative","scale":{"domain":[-20,20],"nice":false},"axis":null}},
"layer":[
{"data":{"name":"c"},"transform":[{"filter":"datum.p=='f'"}],"mark":{"type":"line","interpolate":"monotone","stroke":"#5a0fa0","strokeWidth":4.5,"opacity":0.5,"clip":true},"encoding":{"detail":{"field":"b"}}},
{"data":{"name":"c"},"transform":[{"filter":"datum.p=='f'"}],"mark":{"type":"line","interpolate":"monotone","stroke":"#b4308a","strokeWidth":2.8,"clip":true},"encoding":{"detail":{"field":"b"}}},
{"data":{"name":"c"},"transform":[{"filter":"datum.p=='f'"}],"mark":{"type":"line","interpolate":"monotone","stroke":"#fdc59a","strokeWidth":1.3,"clip":true},"encoding":{"detail":{"field":"b"}}},
{"data":{"name":"t"},"transform":[{"filter":"datum.p=='f'&&datum.f=='b'"}],"mark":{"type":"text","align":"left","baseline":"alphabetic","fontWeight":"bold","fontSize":18,"color":"#000"},"encoding":{"text":{"field":"s"}}},
{"data":{"name":"t"},"transform":[{"filter":"datum.p=='f'&&datum.f=='n'"}],"mark":{"type":"text","align":"left","baseline":"alphabetic","fontSize":16,"color":"#f4eef8"},"encoding":{"text":{"field":"s"}}}
]},
{"width":80,"height":141,"view":{"stroke":"#222"},
"encoding":{"x":{"field":"x","type":"quantitative","scale":{"domain":[0,0.1356],"nice":false},"axis":{"values":[0,0.1],"title":null,"ticks":true,"tickSize":-6,"tickColor":"#222","labelPadding":7,"labelExpr":"datum.value==0?'0':'0.1'"}},"y":{"field":"y","type":"quantitative","scale":{"domain":[-1.33,1.33],"nice":false},"axis":{"orient":"right","values":[-1,0,1],"format":"d","title":null,"ticks":true,"tickSize":-6,"tickColor":"#222","labelPadding":8}}},
"layer":[
{"data":{"name":"n"},"transform":[{"filter":"datum.p=='i'"}],"mark":{"type":"rule","stroke":"#8fb4d4","strokeWidth":1},"encoding":{"x2":{"field":"x2"}}},
{"data":{"name":"r"},"transform":[{"filter":"datum.p=='i'"}],"mark":{"type":"line","stroke":"#8fbfe0","strokeWidth":4,"opacity":0.6},"encoding":{"order":{"field":"y","type":"quantitative"}}},
{"data":{"name":"r"},"transform":[{"filter":"datum.p=='i'"}],"mark":{"type":"line","stroke":"#2b78b4","strokeWidth":2.4},"encoding":{"order":{"field":"y","type":"quantitative"}}},
{"data":{"name":"t"},"transform":[{"filter":"datum.p=='i'&&datum.f=='b'"}],"mark":{"type":"text","align":"left","baseline":"alphabetic","fontWeight":"bold","fontSize":18,"color":"#000"},"encoding":{"text":{"field":"s"}}},
{"data":{"name":"t"},"transform":[{"filter":"datum.p=='i'&&datum.f=='k'"}],"mark":{"type":"text","align":"left","baseline":"alphabetic","fontSize":16,"fontStyle":"italic","color":"#222"},"encoding":{"text":{"field":"s"}}},
{"data":{"name":"t"},"transform":[{"filter":"datum.p=='i'&&datum.f=='k2'"}],"mark":{"type":"text","align":"left","baseline":"alphabetic","fontSize":16,"color":"#222"},"encoding":{"text":{"field":"s"}}},
{"data":{"name":"t"},"transform":[{"filter":"datum.p=='i'&&datum.f=='l'"}],"mark":{"type":"text","align":"left","baseline":"alphabetic","fontSize":12,"color":"#222"},"encoding":{"text":{"field":"s"}}}
]}
],
"columns":3,"spacing":{"row":7,"column":36.5},"bounds":"flush"
}
